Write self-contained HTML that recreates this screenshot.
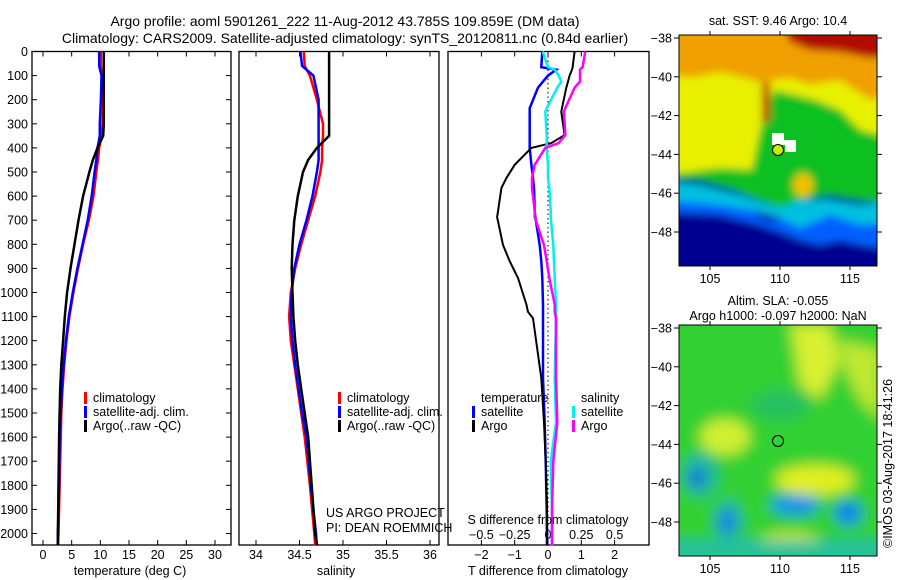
<!DOCTYPE html>
<html><head><meta charset="utf-8"><style>
body{margin:0;background:#fff;}
svg{display:block;font-family:"Liberation Sans",sans-serif;}
text{fill:#000;}
</style></head><body>
<svg id="fig" width="900" height="580" viewBox="0 0 900 580" xmlns="http://www.w3.org/2000/svg">
<defs>
<filter id="blur1"><feGaussianBlur stdDeviation="4"/></filter>
<filter id="blur2"><feGaussianBlur stdDeviation="7"/></filter>
<clipPath id="clipTop"><rect x="679" y="35" width="198" height="231"/></clipPath>
<clipPath id="clipBot"><rect x="679" y="325" width="198" height="231"/></clipPath>
</defs>
<text x="345" y="26" font-size="14" text-anchor="middle">Argo profile: aoml 5901261_222 11-Aug-2012 43.785S 109.859E (DM data)</text>
<text x="345" y="43" font-size="14" text-anchor="middle">Climatology: CARS2009. Satellite-adjusted climatology: synTS_20120811.nc (0.84d earlier)</text>
<g id="panels"></g>
<g id="maps">
 <g clip-path="url(#clipTop)">
  <g filter="url(#blur1)">
   <rect x="660" y="20" width="240" height="260" fill="#000090"/>
   <path d="M660 195 L700 198 L740 205 L770 222 L800 212 L830 210 L860 215 L900 212 L900 250 L860 245 L840 240 L820 245 L800 240 L780 232 L760 225 L720 215 L660 212Z" fill="#0060ff"/>
   <path d="M660 180 L700 185 L740 195 L770 205 L800 200 L830 200 L860 205 L900 200 L900 222 L860 225 L830 215 L800 228 L780 218 L760 212 L720 205 L660 200Z" fill="#00c0e0"/>
   <path d="M660 20 L900 20 L900 205 L860 200 L830 195 L800 200 L780 208 L760 200 L730 188 L700 180 L660 178Z" fill="#10c020"/>
   <path d="M660 20 L900 20 L900 120 L880 135 L860 130 L840 110 L815 100 L795 95 L775 90 L765 110 L758 140 L752 170 L720 168 L690 172 L660 175Z" fill="#e8f000"/>
   <path d="M660 20 L900 20 L900 90 L870 100 L840 80 L810 85 L790 78 L760 82 L720 72 L690 78 L660 72Z" fill="#f0a000"/>
   <path d="M780 20 L900 20 L900 55 L870 58 L840 52 L810 50 L790 42Z" fill="#b01000"/>
   <rect x="762" y="82" width="8" height="40" fill="#c03000"/>
   <ellipse cx="803" cy="185" rx="10" ry="12" fill="#f0c000"/>
  </g>
  <path d="M772 133 L784 133 L784 140 L796 140 L796 152 L785 152 L785 145 L772 145Z" fill="#fff"/>
 </g>
 <g clip-path="url(#clipBot)">
  <g filter="url(#blur2)">
   <rect x="660" y="310" width="240" height="260" fill="#30d030"/>
   <path d="M790 325 L830 325 L840 360 L820 400 L800 385 L795 350Z" fill="#d8f030"/>
   <path d="M840 340 L880 350 L880 420 L860 400 L845 370Z" fill="#c0e830"/>
   <ellipse cx="725" cy="437" rx="25" ry="18" fill="#d0f030"/>
   <ellipse cx="815" cy="480" rx="40" ry="15" fill="#e0f020"/>
   <ellipse cx="790" cy="545" rx="35" ry="12" fill="#e0f020"/>
   <ellipse cx="700" cy="475" rx="18" ry="22" fill="#20b8a0"/>
   <ellipse cx="697" cy="478" rx="8" ry="9" fill="#1060e0"/>
   <ellipse cx="728" cy="520" rx="14" ry="20" fill="#20b0b0"/>
   <ellipse cx="727" cy="522" rx="7" ry="10" fill="#1070f0"/>
   <ellipse cx="795" cy="505" rx="25" ry="10" fill="#1090f0"/>
   <ellipse cx="848" cy="513" rx="14" ry="12" fill="#1080f0"/>
   <ellipse cx="780" cy="405" rx="30" ry="15" fill="#28c060"/>
   <rect x="660" y="540" width="240" height="20" fill="#20c0a0"/>
  </g>
 </g>
 <rect x="679" y="35" width="198" height="231" fill="none" stroke="#000"/>
 <rect x="679" y="325" width="198" height="231" fill="none" stroke="#000"/>
 <circle cx="778" cy="150" r="5.5" fill="#c0f000" stroke="#000"/>
 <circle cx="778" cy="441" r="5.5" fill="none" stroke="#000"/>
 <text x="778" y="25" font-size="12.5" text-anchor="middle">sat. SST: 9.46 Argo: 10.4</text>
 <text x="778" y="305" font-size="12.5" text-anchor="middle">Altim. SLA: -0.055</text>
 <text x="778" y="320" font-size="12.5" text-anchor="middle">Argo h1000: -0.097 h2000: NaN</text>
 <text transform="translate(892,548) rotate(-90)" font-size="12.5">©IMOS 03-Aug-2017 18:41:26</text>
 <g id="mapticks"></g>
</g>
</svg>
<script>
const depthTicks=[0,100,200,300,400,500,600,700,800,900,1000,1100,1200,1300,1400,1500,1600,1700,1800,1900,2000];
const tDepth=[0,60,100,200,300,350,400,450,500,600,700,800,900,1000,1100,1200,1300,1400,1500,1600,1800,2000,2050];
const tClim=[10.1,10.1,10.3,10.5,10.4,10.2,9.8,9.6,9.3,8.8,8.0,7.0,6.1,5.3,4.6,4.1,3.7,3.4,3.2,3.1,2.9,2.7,2.6];
const tSat =[9.8,9.8,10.2,10.1,9.9,9.9,9.5,9.3,9.0,8.5,7.8,6.9,6.0,5.2,4.5,4.0,3.6,3.3,3.1,2.9,2.8,2.6,2.6];
const tArgo=[10.6,10.6,10.6,10.6,10.6,10.5,9.5,8.7,8.1,7.0,6.2,5.5,4.8,4.2,3.8,3.5,3.2,3.0,2.9,2.8,2.7,2.6,2.6];
const sClim=[34.55,34.56,34.62,34.7,34.77,34.77,34.76,34.76,34.74,34.68,34.6,34.52,34.45,34.4,34.38,34.4,34.44,34.48,34.52,34.56,34.62,34.67,34.68];
const sSat =[34.51,34.53,34.66,34.72,34.72,34.72,34.72,34.72,34.7,34.65,34.58,34.5,34.44,34.41,34.4,34.42,34.45,34.49,34.53,34.58,34.63,34.69,34.7];
const sArgo=[34.84,34.84,34.84,34.84,34.84,34.84,34.7,34.6,34.54,34.48,34.44,34.42,34.41,34.42,34.43,34.45,34.48,34.52,34.56,34.6,34.64,34.68,34.7];
const dDepth=[0,65,75,100,125,150,235,250,347,380,400,470,525,567,660,687,803,870,940,1050,1080,1107,1355,1540,1700,1900,2050];
const dTargo=[0.8,0.74,0.72,0.65,0.6,0.55,0.42,0.4,0.5,0.1,-0.5,-1.0,-1.25,-1.4,-1.5,-1.53,-1.35,-1.15,-0.9,-0.65,-0.6,-0.45,-0.2,-0.12,-0.07,-0.03,-0.02];
const dTsat=[-0.17,-0.2,0.25,0,-0.15,-0.3,-0.55,-0.55,-0.55,-0.55,-0.55,-0.5,-0.45,-0.42,-0.4,-0.38,-0.25,-0.2,-0.17,-0.15,-0.15,-0.15,-0.15,-0.1,-0.07,-0.04,-0.03];
const dSsat=[-0.04,0.0,0.05,0.08,0.1,0.07,-0.01,-0.02,-0.01,-0.01,-0.01,0,0,0.01,0.02,0.02,0.04,0.045,0.05,0.06,0.06,0.06,0.05,0.06,0.02,0.03,0.03];
const dSargo=[0.28,0.26,0.24,0.24,0.24,0.2,0.13,0.12,0.13,0.08,-0.02,-0.1,-0.12,-0.12,-0.1,-0.1,-0.03,-0.01,0.01,0.05,0.05,0.06,0.06,0.07,0.04,0.03,0.03];
const tTicks=[0,5,10,15,20,25,30];
const sTicks=[34,34.5,35,35.5,36];
const dTTicks=[-2,-1,0,1,2];
const dSTicks=[-0.5,-0.25,0,0.25,0.5];
const latTicks=[-38,-40,-42,-44,-46,-48];
const lonTicks=[105,110,115];

const NS='http://www.w3.org/2000/svg';
const g=document.getElementById('panels');
function el(tag,attrs,parent,txt){const e=document.createElementNS(NS,tag);for(const k in attrs)e.setAttribute(k,attrs[k]);if(txt!==undefined)e.textContent=txt;(parent||g).appendChild(e);return e;}
const Y=d=>51.5+d*0.241;
const P1={x0:32,x1:231,f:v=>43+v*5.733};
const P2={x0:239,x1:439,f:v=>256+(v-34)*87};
const P3={x0:448,x1:649,f:v=>548+v*33.3};
const fS3=v=>548+v*133.2;
const TOP=51.5,BOT=545;

function frame(P,name){
 const r=el('rect',{x:P.x0,y:TOP,width:P.x1-P.x0,height:BOT-TOP,fill:'none',stroke:'#000','stroke-width':1.3});
 
 
}
function line(depths,fx,vals,color,name,w){
 let d='';
 for(let i=0;i<vals.length;i++){const x=fx(vals[i]).toFixed(1),y=Y(depths[i]).toFixed(1);d+=(i?'L':'M')+x+' '+y;}
 const p=el('path',{d:d,fill:'none',stroke:color,'stroke-width':w||2.5});
 
 
}
function xticks(P,fx,ticks,ylab,name){
 ticks.forEach(t=>{const x=fx(t);
  el('line',{x1:x,x2:x,y1:BOT,y2:BOT-5,stroke:'#000'});
  el('line',{x1:x,x2:x,y1:TOP,y2:TOP+5,stroke:'#000'});
  const tx=el('text',{x:x,y:ylab,'font-size':12.5,'text-anchor':'middle'},g,String(t).replace('-','\u2212'));
  
  
 });
}
frame(P1,'temperature-panel');frame(P2,'salinity-panel');frame(P3,'difference-panel');
depthTicks.forEach(d=>{const y=Y(d);
 el('line',{x1:P1.x0,x2:P1.x0+5,y1:y,y2:y,stroke:'#000'});
 el('line',{x1:P1.x1,x2:P1.x1-5,y1:y,y2:y,stroke:'#000'});
 const t=el('text',{x:28,y:y+4.5,'font-size':12.5,'text-anchor':'end'},g,String(d));
 
 
});
xticks(P1,P1.f,tTicks,559,'temperature');
xticks(P2,P2.f,sTicks,559,'salinity');
dTTicks.forEach(t=>{const x=P3.f(t);el('line',{x1:x,x2:x,y1:BOT,y2:BOT-5,stroke:'#000'});el('line',{x1:x,x2:x,y1:TOP,y2:TOP+5,stroke:'#000'});
 const tx=el('text',{x:x,y:559,'font-size':12.5,'text-anchor':'middle'},g,String(t).replace('-','\u2212'));
 
 });
dSTicks.forEach(t=>{const x=fS3(t);
 const tx=el('text',{x:x,y:539,'font-size':12.5,'text-anchor':'middle'},g,String(t).replace('-','\u2212'));
 
 });
const z=el('line',{x1:P3.f(0),x2:P3.f(0),y1:TOP,y2:BOT,stroke:'#000','stroke-dasharray':'1.5,3'});



line(tDepth,P1.f,tClim,'#ff0000','temp-climatology');
line(tDepth,P1.f,tSat,'#0000ff','temp-satellite-adj');
line(tDepth,P1.f,tArgo,'#000','temp-argo');
line(tDepth,P2.f,sClim,'#ff0000','sal-climatology');
line(tDepth,P2.f,sSat,'#0000ff','sal-satellite-adj');
line(tDepth,P2.f,sArgo,'#000','sal-argo');
line(dDepth,P3.f,dTsat,'#0000ff','dt-satellite');
line(dDepth,P3.f,dTargo,'#000','dt-argo',2);
line(dDepth,fS3,dSsat,'#00f0f0','ds-satellite');
line(dDepth,fS3,dSargo,'#ff00ff','ds-argo');

function leg(x,y,color,label,name){
 const m=el('rect',{x:x,y:y-10,width:3,height:12,fill:color});
 
 
 const t=el('text',{x:x+9,y:y,'font-size':12.5},g,label);
 
 
}
leg(84,402,'#ff0000','climatology','legend-climatology');
leg(84,416,'#0000ff','satellite-adj. clim.','legend-satellite-adj');
leg(84,430,'#000','Argo(..raw -QC)','legend-argo');
leg(338,402,'#ff0000','climatology','legend2-climatology');
leg(338,416,'#0000ff','satellite-adj. clim.','legend2-satellite-adj');
leg(338,430,'#000','Argo(..raw -QC)','legend2-argo');
leg(472,416,'#0000ff','satellite','legend-t-satellite');
leg(472,430,'#000','Argo','legend-t-argo');
leg(572,416,'#00f0f0','satellite','legend-s-satellite');
leg(572,430,'#ff00ff','Argo','legend-s-argo');
function txt(x,y,s,name,anchor){const t=el('text',{x:x,y:y,'font-size':12.5,'text-anchor':anchor||'start'},g,s);
 
 }
txt(481,402,'temperature','legend-temperature-heading');
txt(581,402,'salinity','legend-salinity-heading');
txt(326,517,'US ARGO PROJECT','project-label');
txt(326,532,'PI: DEAN ROEMMICH','pi-label');
txt(548,524,'S difference from climatology','s-difference-axis-title','middle');
txt(548,575,'T difference from climatology','t-difference-axis-title','middle');
txt(130,575,'temperature (deg C)','temperature-axis-title','middle');
txt(336,575,'salinity','salinity-axis-title','middle');

const mg=document.getElementById('mapticks');
const lonX=v=>710+(v-105)*14;
[[35,266,38],[325,556,328]].forEach(([t0,t1,y38],mi)=>{
 latTicks.forEach(l=>{const y=y38+(-38-l)*19.4;
  el('line',{x1:679,x2:674,y1:y,y2:y,stroke:'#000'},mg);
  el('line',{x1:877,x2:882,y1:y,y2:y,stroke:'#000'},mg);
  const t=el('text',{x:672,y:y+4.5,'font-size':12.5,'text-anchor':'end'},mg,String(l).replace('-','\u2212'));
  
  
 });
 lonTicks.forEach(l=>{const x=lonX(l);
  el('line',{x1:x,x2:x,y1:t0,y2:t0-4,stroke:'#000'},mg);
  el('line',{x1:x,x2:x,y1:t1,y2:t1+4,stroke:'#000'},mg);
  const t=el('text',{x:x,y:t1+17,'font-size':12.5,'text-anchor':'middle'},mg,String(l));
  
  
 });
});
</script>
</body></html>
